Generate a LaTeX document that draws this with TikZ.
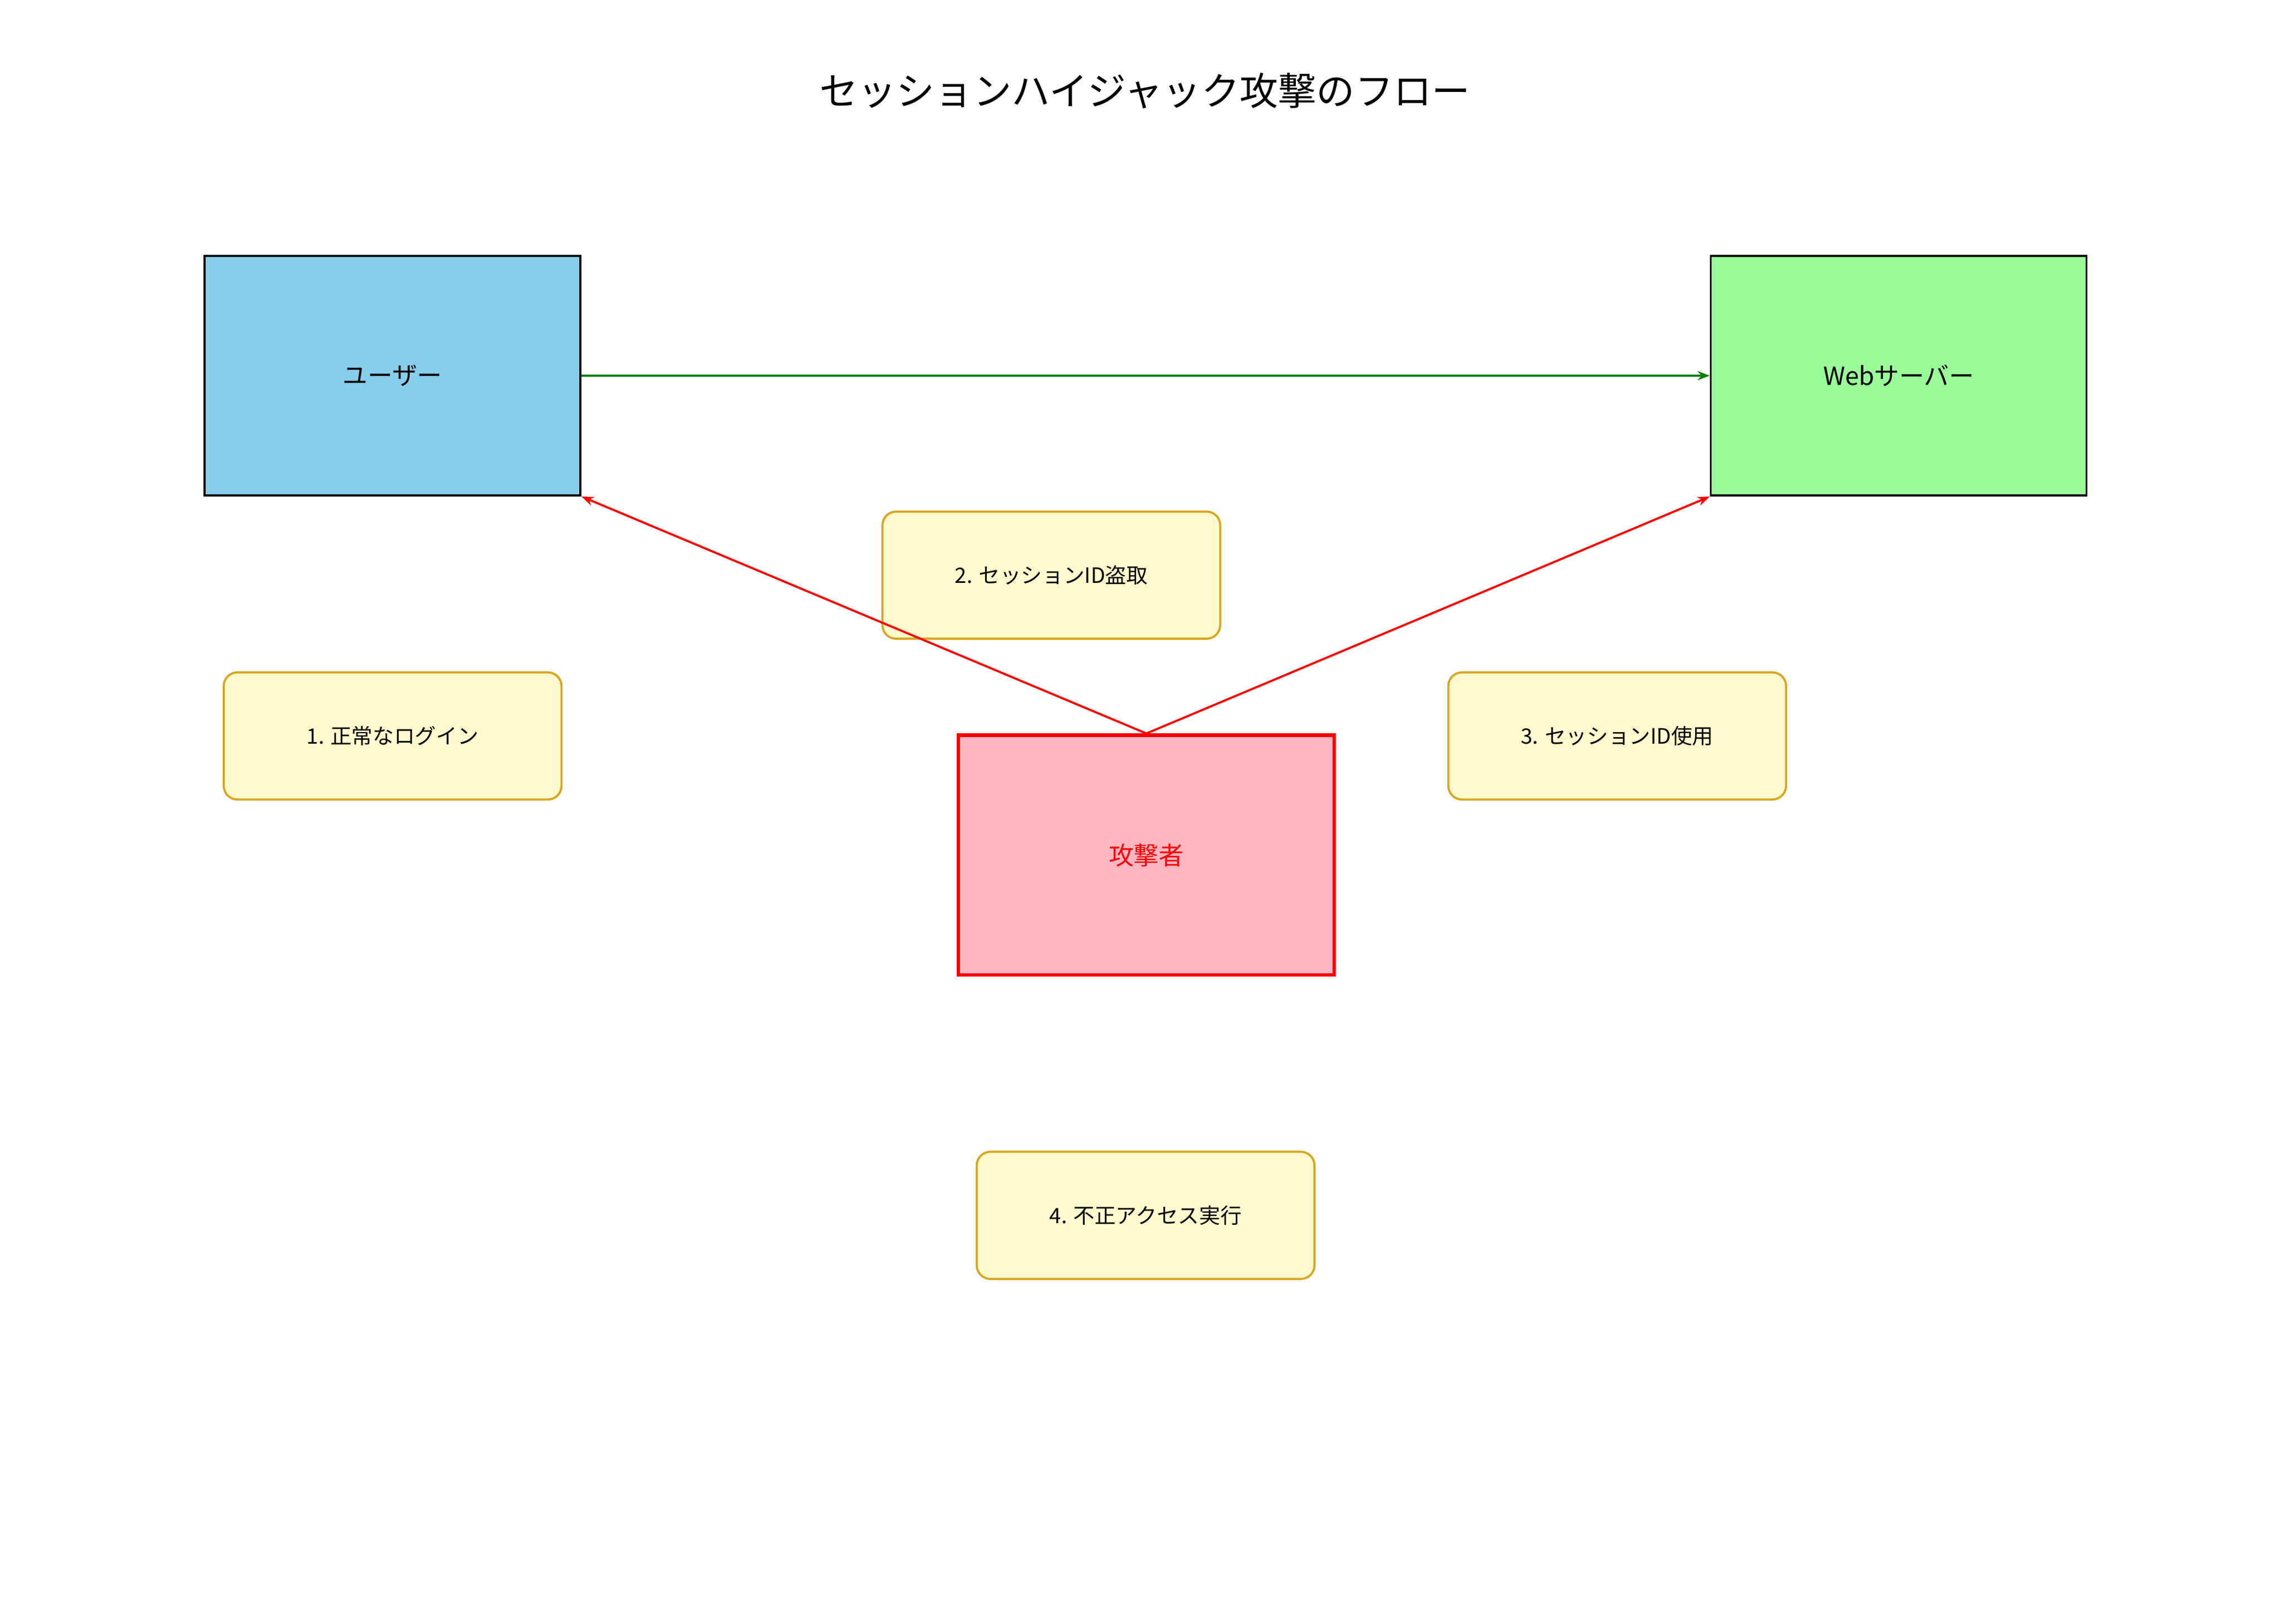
\documentclass[tikz,border=0pt]{standalone}
\usepackage{fontspec}
\setmainfont{Noto Sans CJK JP}
\usetikzlibrary{arrows.meta}
\definecolor{userblue}{HTML}{87CEEB}
\definecolor{servergreen}{HTML}{98FB98}
\definecolor{attackpink}{HTML}{FFB6C1}
\definecolor{notefill}{HTML}{FFFACD}
\definecolor{noteline}{HTML}{DAA520}
\definecolor{flowgreen}{HTML}{008000}
\begin{document}
\begin{tikzpicture}[x=0.02673cm,y=-0.02673cm,
    actor/.style={draw,line width=1.1pt,minimum width=257*0.02673cm,minimum height=164*0.02673cm,font=\fontsize{13}{15}\selectfont},
    note/.style={draw=noteline,fill=notefill,line width=1.1pt,rounded corners=2.5mm,
                 minimum width=231*0.02673cm,minimum height=87*0.02673cm,font=\fontsize{11}{13}\selectfont},
    flow/.style={line width=1.1pt,-{Stealth[length=2.2mm]}}]
\useasboundingbox(0,0) rectangle (1560,1111);
\node (title) at (783,62) {\fontsize{20}{24}\selectfont セッションハイジャック攻撃のフロー};

\node[actor,fill=userblue] (user) at (268.5,257) {ユーザー};
\node[actor,fill=servergreen] (server) at (1298.5,257) {Webサーバー};
\node[actor,fill=attackpink,draw=red,line width=1.8pt,text=red] (attacker) at (784,585) {攻撃者};

\node[note] (step1) at (268.5,503.5) {1. 正常なログイン};
\node[note] (step2) at (719,393.5) {2. セッションID盗取};
\node[note] (step3) at (1106,503.5) {3. セッションID使用};
\node[note] (step4) at (783.5,831.5) {4. 不正アクセス実行};

\draw[flow,flowgreen] (user.east) -- (server.west);
\draw[flow,red] (attacker.north) -- (user.south east);
\draw[flow,red] (attacker.north) -- (server.south west);
\end{tikzpicture}
\end{document}
